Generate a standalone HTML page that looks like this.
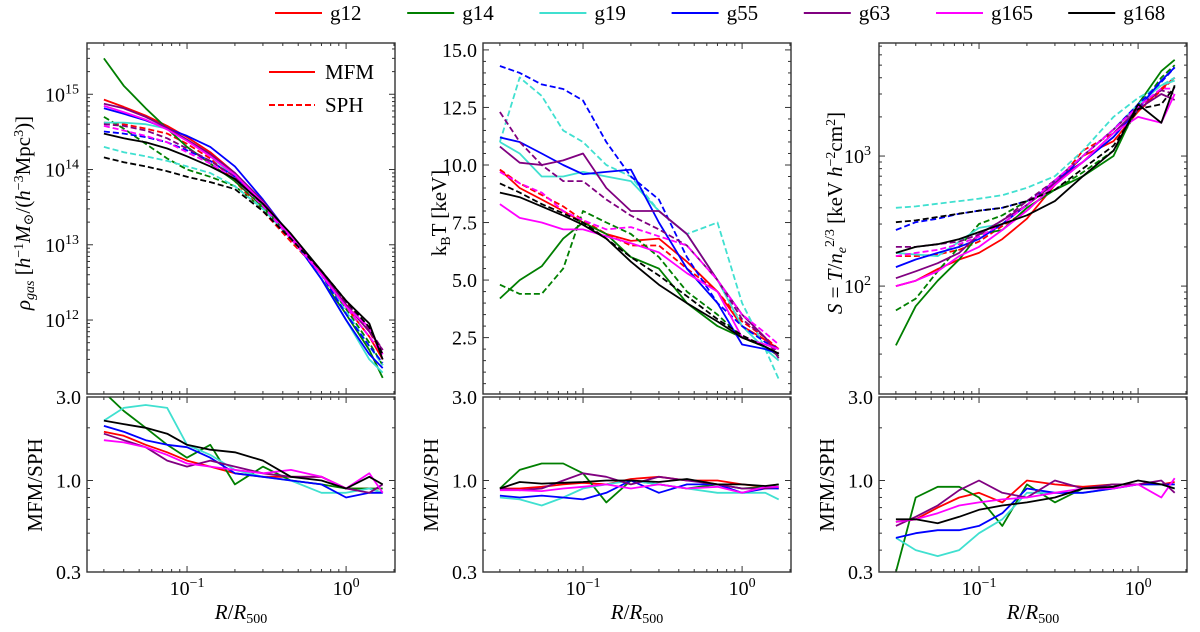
<!DOCTYPE html>
<html><head><meta charset="utf-8">
<style>
html,body{margin:0;padding:0;background:#fff;}
svg{display:block;font-family:"Liberation Serif","DejaVu Serif",serif;}
</style></head>
<body>
<svg id="fig" width="1200" height="632" viewBox="0 0 1200 632" xmlns="http://www.w3.org/2000/svg"></svg>
<script>
// ---- data ----
const radii = [0.03,0.04,0.055,0.075,0.1,0.14,0.2,0.3,0.45,0.7,1.0,1.4,1.7];
const haloNames = ["g12","g14","g19","g55","g63","g165","g168"];
const haloColors = ["#ff0000","#007f00","#40e0d0","#0000ff","#800080","#ff00ff","#000000"];

const rhoMFM = [
 [8.5e14,6.8e14,5.2e14,3.8e14,2.7e14,1.7e14,9e13,3.5e13,1.2e13,4e12,1.5e12,6e11,3e11],
 [3e15,1.3e15,6.5e14,3.5e14,2e14,1.2e14,7e13,3.2e13,1.3e13,3.5e12,1.2e12,4e11,1.7e11],
 [4.2e14,4.2e14,4e14,3.5e14,2.5e14,1.5e14,8e13,3.5e13,1.3e13,3.5e12,1e12,3e11,2e11],
 [6.5e14,5.5e14,4.5e14,3.5e14,2.8e14,2e14,1.1e14,4e13,1.3e13,3.5e12,1e12,3.5e11,2.3e11],
 [7.5e14,6.5e14,5e14,3.6e14,2.5e14,1.6e14,9e13,3.8e13,1.3e13,4.2e12,1.6e12,7e11,4e11],
 [7e14,5.8e14,4.6e14,3.4e14,2.4e14,1.5e14,8.5e13,3.6e13,1.3e13,4e12,1.5e12,8e11,3.5e11],
 [3e14,2.6e14,2.3e14,1.9e14,1.5e14,1.1e14,7.5e13,3.5e13,1.4e13,4.5e12,1.8e12,9e11,3e11]];
const rhoSPH = [
 [4.2e14,4e14,3.5e14,3e14,2.2e14,1.4e14,7e13,2.8e13,1.1e13,4.2e12,1.7e12,7e11,3.5e11],
 [5e14,3.5e14,2.2e14,1.4e14,1e14,8e13,6e13,3e13,1.3e13,4e12,1.4e12,5e11,2.5e11],
 [2e14,1.7e14,1.5e14,1.3e14,1.1e14,9e13,6e13,3e13,1.2e13,4e12,1.3e12,4.5e11,2.5e11],
 [3.2e14,3e14,2.7e14,2.3e14,1.8e14,1.3e14,8e13,3.5e13,1.3e13,4e12,1.2e12,4.5e11,2.7e11],
 [4e14,3.8e14,3.3e14,2.6e14,1.9e14,1.3e14,8e13,3.5e13,1.3e13,4.5e12,1.7e12,7.5e11,4e11],
 [3.8e14,3.3e14,2.8e14,2.3e14,1.7e14,1.2e14,7.5e13,3.3e13,1.2e13,4e12,1.5e12,6e11,3.5e11],
 [1.45e14,1.25e14,1.1e14,9.5e13,8e13,6.8e13,5.5e13,2.8e13,1.2e13,4.5e12,1.8e12,8e11,3.5e11]];
const tMFM = [
 [9.8,9,8.5,8,7.5,7,6.7,6.8,5.8,4.5,3,2.4,2],
 [4.2,5,5.6,6.8,7.5,7,6,5.5,4,3,2.5,2.1,1.7],
 [11,10.5,9.5,9.5,9.7,9.5,9.3,8,7,5,3,2,1.5],
 [11.2,11,10.5,10,9.6,9.7,9.8,7.5,5.5,4,2.2,2,1.8],
 [10.8,10.1,10,10.2,10.5,9,8,8,7,5,3.5,2.5,1.6],
 [8.3,7.7,7.5,7.2,7.2,6.9,6.6,6.2,5.3,4.5,2.5,2.2,2.0],
 [8.8,8.6,8.2,7.8,7.4,6.8,5.8,4.8,4,3.2,2.5,2.1,1.8]];
const tSPH = [
 [9.8,9.2,8.7,8.2,7.6,7,6.5,6.5,5.5,4.5,3.2,2.5,2],
 [4.8,4.4,4.4,5.5,8,7.5,7,6,4.5,3.5,2.5,2.1,1.8],
 [11,13.8,13,11.5,11,10,9.5,8,7,7.5,4,2,0.7],
 [14.3,14,13.5,13.3,12.8,11,9.5,8.5,6,4,3,2.3,2],
 [12.3,11,10,9.3,9.3,8.5,7.8,7.2,6.5,5,3.3,2.5,1.8],
 [9.7,9.2,8.8,8,7.6,7.2,7.3,6.9,6.5,5,3.5,2.7,2.2],
 [9.2,8.8,8.3,7.9,7.5,6.8,6,5.2,4.3,3.3,2.6,2.1,1.8]];
const sMFM = [
 [100,110,135,160,180,230,330,600,1000,1300,2200,3300,4000],
 [35,70,110,160,250,270,400,550,700,1000,2500,4500,5500],
 [180,175,170,220,280,300,420,650,1000,1600,2500,3500,3800],
 [140,160,180,200,230,300,420,650,900,1400,2300,3800,4800],
 [115,130,150,180,250,320,420,620,900,1500,2300,3000,2700],
 [100,110,130,170,200,270,380,600,900,1500,2000,1800,3000],
 [180,200,210,230,260,300,350,450,700,1100,2500,1800,3500]];
const sSPH = [
 [170,170,175,190,220,290,380,600,1100,1500,2200,3200,4000],
 [65,80,130,200,300,350,450,550,750,1100,2300,4000,5000],
 [400,410,430,450,470,500,570,700,1100,2000,2800,3500,4000],
 [270,310,330,360,380,400,450,600,1000,1600,2500,3700,4800],
 [200,200,210,220,250,320,450,650,1000,1600,2400,3200,3000],
 [170,180,190,210,240,300,420,650,1000,1600,2400,3300,3300],
 [310,320,340,360,380,400,450,550,800,1200,2300,2500,3400]];
const rhoRatio = [
 [1.9,1.8,1.6,1.45,1.3,1.2,1.1,1.05,1.05,1.05,0.9,0.9,0.85],
 [3.2,2.5,2.0,1.6,1.35,1.6,0.95,1.2,1.0,0.95,0.9,0.9,0.9],
 [2.2,2.6,2.7,2.6,1.6,1.4,1.15,1.05,1.0,0.85,0.85,0.9,0.85],
 [2.05,1.9,1.7,1.6,1.55,1.35,1.1,1.05,1.0,0.95,0.8,0.85,0.85],
 [1.85,1.7,1.55,1.3,1.2,1.3,1.2,1.1,1.05,1.05,0.9,0.85,0.95],
 [1.7,1.65,1.55,1.4,1.25,1.2,1.15,1.1,1.15,1.05,0.9,1.1,0.85],
 [2.2,2.1,2.0,1.85,1.6,1.5,1.45,1.3,1.05,1.0,0.9,1.05,0.95]];
const tRatio = [
 [0.9,0.9,0.92,0.95,0.97,0.95,1.02,1.05,1.0,1.0,0.95,0.92,0.9],
 [0.9,1.15,1.25,1.25,1.1,0.75,1.0,0.95,0.9,0.95,0.9,0.92,0.95],
 [0.8,0.78,0.72,0.8,0.9,0.95,1.0,0.95,0.9,0.85,0.85,0.85,0.78],
 [0.82,0.8,0.82,0.8,0.78,0.85,1.0,0.85,0.95,0.95,0.85,0.9,0.9],
 [0.9,0.88,0.9,1.0,1.1,1.05,0.95,1.05,1.0,0.95,0.9,0.9,0.92],
 [0.88,0.88,0.87,0.9,0.92,0.95,0.9,0.95,0.9,0.92,0.85,0.92,0.92],
 [0.9,0.98,0.96,0.97,0.98,1.0,1.0,0.98,1.02,0.95,0.95,0.93,0.95]];
const sRatio = [
 [0.58,0.6,0.7,0.8,0.85,0.75,1.0,0.95,0.92,0.95,0.95,0.95,0.98],
 [0.3,0.8,0.92,0.92,0.8,0.55,0.95,0.75,0.9,0.95,0.95,0.95,0.95],
 [0.47,0.4,0.37,0.4,0.5,0.6,0.85,0.85,0.85,0.9,0.95,0.95,0.9],
 [0.47,0.5,0.52,0.52,0.55,0.65,0.9,0.85,0.85,0.9,0.95,0.95,0.95],
 [0.55,0.62,0.72,0.88,1.0,0.85,0.8,1.0,0.9,0.95,0.95,1.0,0.85],
 [0.58,0.6,0.65,0.72,0.75,0.78,0.8,0.85,0.9,0.9,0.95,0.8,1.03],
 [0.6,0.6,0.57,0.62,0.68,0.72,0.75,0.8,0.9,0.92,1.0,0.95,0.9]];
const ratioTicks = [0.3,1.0,3.0];
const ratioTickLabels = ["0.3","1.0","3.0"];
const tTicks = [2.5,5,7.5,10,12.5,15];
const tTickLabels = ["2.5","5.0","7.5","10.0","12.5","15.0"];

// ---- layout ----
const NS="http://www.w3.org/2000/svg";
const svg=document.getElementById('fig');
const PW=308, TOP=43, MID=394, BTOP=397, BOT=572;
const FS=20, SUP=14;
const XLO=Math.log10(0.0235), XHI=Math.log10(2.03);
function mk(tag,attrs,parent){const e=document.createElementNS(NS,tag);for(const k in attrs)e.setAttribute(k,attrs[k]);(parent||svg).appendChild(e);return e;}
function xScale(x0){return v=>x0+(Math.log10(v)-XLO)/(XHI-XLO)*PW;}
function logY(lo,hi,y0,y1){return v=>y1-(Math.log10(v)-Math.log10(lo))/(Math.log10(hi)-Math.log10(lo))*(y1-y0);}
function linY(lo,hi,y0,y1){return v=>y1-(v-lo)/(hi-lo)*(y1-y0);}
function txt(x,y,s,size,anchor,parent,name){const t=mk('text',{x:x,y:y,'font-size':size,'text-anchor':anchor||'middle',fill:'#000'},parent);t.innerHTML=s;

return t;}

const panels=[
 {x0:87,name:'density',mfm:rhoMFM,sph:rhoSPH,ratio:rhoRatio,y:logY(1.04e11,4.8e15,TOP,MID),log:true,lo:1.04e11,hi:4.8e15},
 {x0:483,name:'temperature',mfm:tMFM,sph:tSPH,ratio:tRatio,y:linY(0.05,15.3,TOP,MID),log:false},
 {x0:879,name:'entropy',mfm:sMFM,sph:sSPH,ratio:sRatio,y:logY(14.8,7400,TOP,MID),log:true,lo:14.8,hi:7400}
];
const yR=logY(0.3,3.0,BTOP,BOT);

panels.forEach((p,pi)=>{
  const g=mk('g',{});
  
  
  const X=xScale(p.x0);
  const cid='clip'+pi, cid2='clipr'+pi;
  const d=mk('defs',{},g);
  const c1=mk('clipPath',{id:cid},d); mk('rect',{x:p.x0,y:TOP,width:PW,height:MID-TOP},c1);
  const c2=mk('clipPath',{id:cid2},d); mk('rect',{x:p.x0,y:BTOP,width:PW,height:BOT-BTOP},c2);
  const sg=mk('g',{'clip-path':'url(#'+cid+')'},g);
  const rg=mk('g',{'clip-path':'url(#'+cid2+')'},g);
  haloNames.forEach((h,i)=>{
    const ptsS=radii.map((r,k)=>X(r).toFixed(1)+','+p.y(p.sph[i][k]).toFixed(1)).join(' ');
    const l1=mk('polyline',{points:ptsS,fill:'none',stroke:haloColors[i],'stroke-width':1.8,'stroke-dasharray':'6,3','stroke-linejoin':'round'},sg);
    
    
    const ptsM=radii.map((r,k)=>X(r).toFixed(1)+','+p.y(p.mfm[i][k]).toFixed(1)).join(' ');
    const l2=mk('polyline',{points:ptsM,fill:'none',stroke:haloColors[i],'stroke-width':1.8,'stroke-linejoin':'round'},sg);
    
    
    const ptsR=radii.map((r,k)=>X(r).toFixed(1)+','+yR(p.ratio[i][k]).toFixed(1)).join(' ');
    const l3=mk('polyline',{points:ptsR,fill:'none',stroke:haloColors[i],'stroke-width':1.8,'stroke-linejoin':'round'},rg);
    
    
  });
  mk('rect',{x:p.x0,y:TOP,width:PW,height:MID-TOP,fill:'none',stroke:'#333','stroke-width':1.4},g);
  mk('rect',{x:p.x0,y:BTOP,width:PW,height:BOT-BTOP,fill:'none',stroke:'#333','stroke-width':1.4},g);
  const tk=mk('g',{stroke:'#333','stroke-width':1},g);
  function ht(y,len){mk('line',{x1:p.x0,y1:y,x2:p.x0+len,y2:y},tk);mk('line',{x1:p.x0+PW,y1:y,x2:p.x0+PW-len,y2:y},tk);}
  for(let dec=-2;dec<=0;dec++){for(let m=1;m<=9;m++){const v=m*Math.pow(10,dec);if(v<0.0235||v>2.03)continue;const xx=X(v);const len=m===1?6:3;
    [[TOP,1],[MID,-1],[BTOP,1],[BOT,-1]].forEach(([yy,s])=>mk('line',{x1:xx,y1:yy,x2:xx,y2:yy+s*len},tk));}}
  txt(X(0.1),595,'10<tspan dy="-8" font-size="'+SUP+'">−1</tspan>',FS,'middle',g,'x-tick-label');
  txt(X(1),595,'10<tspan dy="-8" font-size="'+SUP+'">0</tspan>',FS,'middle',g,'x-tick-label');
  txt(p.x0+PW/2,619,'<tspan font-style="italic">R</tspan>/<tspan font-style="italic">R</tspan><tspan dy="4" font-size="'+SUP+'">500</tspan>',21,'middle',g,'x-axis-title');
  [0.4,0.5,0.6,0.7,0.8,0.9,2].forEach(v=>ht(yR(v),3));
  ratioTicks.forEach((v,k)=>{ht(yR(v),6);txt(p.x0-6,yR(v)+7,ratioTickLabels[k],FS,'end',g,'ratio-tick-label');});
  txt(0,0,'MFM/SPH',21,'middle',g,'ratio-y-axis-title').setAttribute('transform','translate('+(p.x0-45)+',485) rotate(-90)');
  if(p.log){
    for(let dec=Math.floor(Math.log10(p.lo));dec<=Math.ceil(Math.log10(p.hi));dec++){
      for(let m=1;m<=9;m++){const v=m*Math.pow(10,dec);if(v<p.lo||v>p.hi)continue;ht(p.y(v),m===1?6:3);
        if(m===1&&(pi===0||dec>=2)){txt(p.x0-8,p.y(v)+7,'10<tspan dy="-8" font-size="'+SUP+'">'+dec+'</tspan>',FS,'end',g,'y-tick-label');}}}
  } else {
    tTicks.forEach((v,k)=>{ht(p.y(v),6);txt(p.x0-6,p.y(v)+7,tTickLabels[k],FS,'end',g,'y-tick-label');});
    for(let v=0.5;v<15.3;v+=0.5){if(Math.abs(v/2.5-Math.round(v/2.5))>0.01)ht(p.y(v),3);}
  }
});
let t1=txt(0,0,'<tspan font-style="italic">ρ<tspan dy="4" font-size="'+SUP+'">gas</tspan></tspan><tspan dy="-4"> [</tspan><tspan font-style="italic">h</tspan><tspan dy="-7" font-size="'+SUP+'">−1</tspan><tspan dy="7" font-style="italic">M</tspan><tspan dy="3" font-size="'+SUP+'">⊙</tspan><tspan dy="-3">/(</tspan><tspan font-style="italic">h</tspan><tspan dy="-7" font-size="'+SUP+'">−3</tspan><tspan dy="7">Mpc</tspan><tspan dy="-7" font-size="'+SUP+'">3</tspan><tspan dy="7">)]</tspan>',21,'middle',null,'density-y-axis-title');
t1.setAttribute('transform','translate(30,213) rotate(-90)');
let t2=txt(0,0,'k<tspan dy="4" font-size="'+SUP+'">B</tspan><tspan dy="-4">T [keV]</tspan>',21,'middle',null,'temperature-y-axis-title');
t2.setAttribute('transform','translate(446,213) rotate(-90)');
let t3=txt(0,0,'<tspan font-style="italic">S</tspan> = <tspan font-style="italic">T</tspan>/<tspan font-style="italic">n</tspan><tspan dy="4" font-size="'+SUP+'" font-style="italic">e</tspan><tspan dy="-12" font-size="'+SUP+'">2/3</tspan><tspan dy="8"> [keV </tspan><tspan font-style="italic">h</tspan><tspan dy="-7" font-size="'+SUP+'">−2</tspan><tspan dy="7">cm</tspan><tspan dy="-7" font-size="'+SUP+'">2</tspan><tspan dy="7">]</tspan>',21,'middle',null,'entropy-y-axis-title');
t3.setAttribute('transform','translate(842,213) rotate(-90)');

const lg=mk('g',{});


mk('line',{x1:269,y1:72,x2:315,y2:72,stroke:'#ff0000','stroke-width':2},lg);
mk('line',{x1:269,y1:105,x2:315,y2:105,stroke:'#ff0000','stroke-width':2,'stroke-dasharray':'6,3'},lg);
txt(325,79,'MFM',21,'start',lg,'legend-mfm');
txt(325,112,'SPH',21,'start',lg,'legend-sph');

haloNames.forEach((h,i)=>{
  const x=275+i*132.2;
  const e=mk('g',{});
  
  
  mk('line',{x1:x,y1:13,x2:x+47,y2:13,stroke:haloColors[i],'stroke-width':2},e);
  txt(x+55,20,h,21,'start',e,'legend-label');
});
</script>
</body></html>
